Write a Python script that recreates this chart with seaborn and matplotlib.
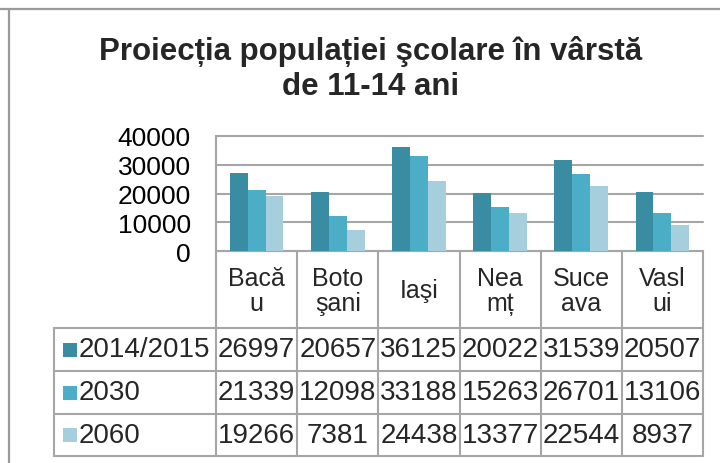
import matplotlib
matplotlib.use("Agg")
import matplotlib.pyplot as plt
import matplotlib.patches as mpatches
import seaborn as sns
import pandas as pd

# data
judete = ["Bacă\nu", "Boto\nşani", "Iaşi", "Nea\nmț", "Suce\nava", "Vasl\nui"]
serii = ["2014/2015", "2030", "2060"]
v2014 = [26997, 20657, 36125, 20022, 31539, 20507]
v2030 = [21339, 12098, 33188, 15263, 26701, 13106]
v2060 = [19266, 7381, 24438, 13377, 22544, 8937]
y_ticks = [0, 10000, 20000, 30000, 40000]
titlu = "Proiecția populației şcolare în vârstă\nde 11-14 ani"

CULORI = ["#3A8CA2", "#4BADC6", "#A7CEDC"]
GRID = "#A6A6A6"
BORDER = "#9A9A9A"

df = pd.DataFrame({
    "judet": judete * 3,
    "an": [s for s in serii for _ in judete],
    "val": v2014 + v2030 + v2060,
})

sns.set_style("white")
plt.rcParams["font.family"] = ["Liberation Sans", "DejaVu Sans"]

W, H = 720, 464
fig = plt.figure(figsize=(W / 100, H / 100), dpi=100)
fig.patch.set_facecolor("white")

# pixel geometry
X0, X1 = 216, 703
Y_TOP, Y_AX = 137, 252
Y_ROWS = [329, 372, 415, 457]
X_TAB = 54

ax = fig.add_axes([X0 / W, (H - Y_AX) / H, (X1 - X0) / W, (Y_AX - Y_TOP) / H])
sns.barplot(data=df, x="judet", y="val", hue="an", palette=CULORI,
            width=0.66, gap=0, saturation=1, ax=ax, legend=False,
            edgecolor="none", linewidth=0, zorder=3)
ax.set_xlim(-0.5, len(judete) - 0.5)
ax.set_ylim(0, 40000)
ax.set_yticks(y_ticks)
ax.set_yticklabels([str(t) for t in y_ticks], fontsize=19, color="black")
ax.set_xticks([])
ax.set_xlabel("")
ax.set_ylabel("")
ax.tick_params(axis="y", length=0, pad=18)
ax.yaxis.grid(True, color=GRID, linewidth=1.5, zorder=0)
for gl in ax.get_ygridlines():
    gl.set_clip_on(False)
for s in ["top", "right", "bottom"]:
    ax.spines[s].set_visible(False)
ax.spines["left"].set_color(GRID)
ax.spines["left"].set_linewidth(1.5)
ax.set_facecolor("none")

# overlay in pixel coords for title, table, border
ov = fig.add_axes([0, 0, 1, 1], zorder=-1)
ov.set_xlim(0, W)
ov.set_ylim(H, 0)
ov.axis("off")

# outer chart border
ov.plot([0, W], [10, 10], color=BORDER, lw=1.6, solid_capstyle="butt")
ov.plot([9, 9], [10, H], color=BORDER, lw=1.6, solid_capstyle="butt")

ov.text(371, 69, titlu, ha="center", va="center", fontsize=22.5,
        fontweight="bold", linespacing=1.2)

n = len(judete)
cw = (X1 - X0) / n
edges = [X0 + i * cw for i in range(n + 1)]

# table grid
ov.plot([X0, X1], [Y_AX, Y_AX], color=GRID, lw=1.5)
for y in Y_ROWS:
    ov.plot([X_TAB, X1], [y, y], color=GRID, lw=1.5)
for x in edges:
    ov.plot([x, x], [Y_AX, Y_ROWS[-1]], color=GRID, lw=1.5)
ov.plot([X_TAB, X_TAB], [Y_ROWS[0], Y_ROWS[-1]], color=GRID, lw=1.5)

# category labels
for i, lab in enumerate(judete):
    ov.text(edges[i] + cw / 2, (Y_AX + Y_ROWS[0]) / 2 + 1, lab, ha="center",
            va="center", fontsize=18, linespacing=1.05)

# data rows
for r, (nume, vals, c) in enumerate(zip(serii, [v2014, v2030, v2060], CULORI)):
    yc = (Y_ROWS[r] + Y_ROWS[r + 1]) / 2
    ov.add_patch(mpatches.Rectangle((63, yc - 7), 14, 14, color=c, lw=0))
    ov.text(79, yc, nume, ha="left", va="center", fontsize=20)
    for i, v in enumerate(vals):
        ov.text(edges[i] + cw / 2, yc, str(v), ha="center", va="center",
                fontsize=20)

fig.savefig("out.png", dpi=100, facecolor="white")
